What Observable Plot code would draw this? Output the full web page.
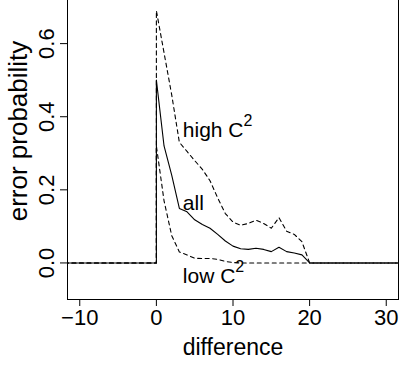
<!DOCTYPE html>
<html>
<head>
<meta charset="utf-8">
<script src="https://cdn.jsdelivr.net/npm/d3@7"></script>
<script src="https://cdn.jsdelivr.net/npm/@observablehq/plot@0.6"></script>
<style>
  html, body { margin: 0; padding: 0; background: white; overflow: hidden; width: 399px; height: 367px; }
  #chart svg { display: block; margin-top: -30px; }
</style>
</head>
<body>
<div id="chart"></div>
<script>
// x positions (difference); the repeated 0 draws the vertical jump
const diffs = [-12, 0, 0, 1, 2, 3, 4, 5, 6, 7, 8, 9, 10, 11, 12, 13, 14, 15, 16, 17, 18, 19, 20, 32];
const allErr  = [0, 0, 0.50, 0.320, 0.240, 0.149, 0.140, 0.118, 0.105, 0.095, 0.078, 0.060, 0.046, 0.039, 0.037, 0.040, 0.037, 0.031, 0.043, 0.031, 0.027, 0.022, 0, 0];
const highErr = [0, 0, 0.69, 0.575, 0.460, 0.330, 0.305, 0.280, 0.256, 0.225, 0.178, 0.135, 0.112, 0.103, 0.108, 0.117, 0.108, 0.095, 0.124, 0.087, 0.078, 0.058, 0, 0];
const lowErr  = [0, 0, 0.32, 0.170, 0.075, 0.030, 0.022, 0.013, 0.012, 0.012, 0.010, 0.004, 0.001, 0, 0, 0, 0, 0, 0, 0, 0, 0, 0, 0];

const xTicks = [-10, 0, 10, 20, 30];
const yTicks = [0, 0.2, 0.4, 0.6];

const labelText = ["high C²", "all", "low C²"];
const labelX = [3.45, 3.45, 3.45];
const labelY = [0.345, 0.146, -0.056];

const series = (vals) => diffs.map((d, i) => ({x: d, y: vals[i]}));
const labels = labelText.map((t, i) => ({t, x: labelX[i], y: labelY[i]}));

const font = "'Liberation Sans', Arial, Helvetica, sans-serif";

const chart = Plot.plot({
  width: 399,
  height: 397,
  marginTop: 0,
  marginLeft: 67,
  marginRight: 1,
  marginBottom: 68,
  style: {fontFamily: font, background: "white", color: "black"},
  x: {domain: [-11.6, 31.6]},
  y: {domain: [-0.1, 0.8]},
  marks: [
    Plot.line(series(allErr), {x: "x", y: "y", stroke: "black", strokeWidth: 1.1, clip: "frame"}),
    Plot.line(series(highErr), {x: "x", y: "y", stroke: "black", strokeWidth: 1.1, strokeDasharray: "4,3.5", clip: "frame"}),
    Plot.line(series(lowErr), {x: "x", y: "y", stroke: "black", strokeWidth: 1.1, strokeDasharray: "4,3.5", clip: "frame"}),
    Plot.text(labels, {x: "x", y: "y", text: "t", textAnchor: "start", lineAnchor: "bottom", fontSize: 21, fill: "black"}),
    Plot.frame({stroke: "black", strokeWidth: 1}),
    Plot.axisX({ticks: xTicks, tickSize: 7, tickPadding: 3, fontSize: 22, label: null, tickFormat: d3.format("d")}),
    Plot.axisY({ticks: yTicks, tickSize: 7, tickPadding: 7, tickRotate: -90, fontSize: 22, label: null, tickFormat: d3.format(".1f")}),
    Plot.text(["difference"], {frameAnchor: "bottom", dy: 55, textAnchor: "middle", lineAnchor: "bottom", fontSize: 23, fill: "black"}),
    Plot.text(["error probability"], {frameAnchor: "left", dx: -41, dy: -4, rotate: -90, textAnchor: "middle", lineAnchor: "bottom", fontSize: 26, fill: "black"})
  ]
});

// render the squared C as a real superscript
d3.select(chart).selectAll("text").each(function() {
  const el = d3.select(this);
  const s = el.text();
  if (s.endsWith("²")) {
    el.text(s.slice(0, -1));
    el.append("tspan").attr("baseline-shift", "11px").attr("font-size", "16").text("2");
  }
});

document.getElementById("chart").appendChild(chart);
</script>
</body>
</html>
